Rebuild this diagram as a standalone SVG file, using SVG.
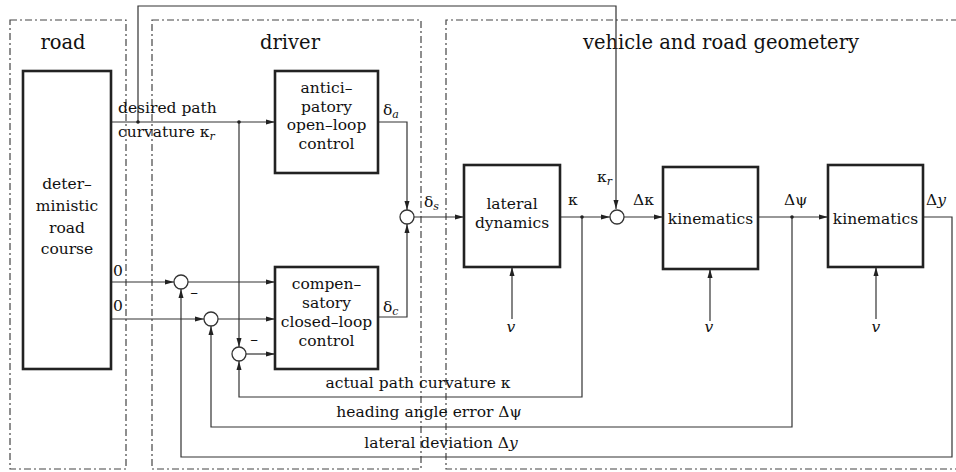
<svg xmlns="http://www.w3.org/2000/svg" width="956" height="472" viewBox="0 0 956 472">
<style>
text{font-family:'DejaVu Serif','Liberation Serif',serif;fill:#111;font-size:15.5px;text-anchor:middle}
.h{font-size:19.5px}
.l{text-anchor:start}
.it{font-style:italic}
.sub{font-size:11px;font-style:italic}
.frame{fill:none;stroke:#444;stroke-width:1.2;stroke-dasharray:7 3 2 3}
.blk{fill:#fff;stroke:#222;stroke-width:2.6}
.sum{fill:#fff;stroke:#333;stroke-width:1.3}
.c{fill:none;stroke:#333;stroke-width:1.2}
.arr{marker-end:url(#ah)}
</style>
<defs>
<marker id="ah" markerUnits="userSpaceOnUse" markerWidth="10" markerHeight="6" refX="9" refY="3" orient="auto">
<path d="M0,0.5 L9,3 L0,5.5 z" fill="#222"/>
</marker>
</defs>
<rect width="956" height="472" fill="#fff"/>

<g id="frames">
<rect class="frame" x="10" y="20" width="116" height="449"/>
<rect class="frame" x="152" y="20" width="269" height="449"/>
<path class="frame" d="M958,20 H446 V469 H958"/>
</g>

<g id="headings">
<text class="h" x="63" y="49">road</text>
<text class="h" x="290" y="49">driver</text>
<text class="h" x="721" y="49">vehicle and road geometery</text>
</g>

<g id="connectors">
<path class="c arr" d="M111,122 H275"/>
<path class="c arr" d="M138,122 V6 H616 V209"/>
<path class="c arr" d="M239,122 V347"/>
<path class="c arr" d="M378,122 H407 V210"/>
<path class="c arr" d="M378,317 H407 V224"/>
<path class="c arr" d="M414,217 H464"/>
<path class="c arr" d="M560,217 H610"/>
<path class="c arr" d="M624,217 H663"/>
<path class="c arr" d="M758,217 H828"/>
<path class="c arr" d="M923,217 H952 V457 H181 V289"/>
<path class="c arr" d="M792,217 V427 H211 V326"/>
<path class="c arr" d="M582,217 V397 H239 V361"/>
<path class="c arr" d="M111,282 H174"/>
<path class="c arr" d="M188,282 H275"/>
<path class="c arr" d="M111,319 H204"/>
<path class="c arr" d="M218,319 H275"/>
<path class="c arr" d="M246,354 H275"/>
<path class="c arr" d="M512,319 V267"/>
<path class="c arr" d="M710,321 V269"/>
<path class="c arr" d="M876,319 V267"/>
<circle cx="138" cy="122" r="1.8" fill="#222"/>
<circle cx="239" cy="122" r="1.8" fill="#222"/>
<circle cx="582" cy="217" r="1.8" fill="#222"/>
<circle cx="792" cy="217" r="1.8" fill="#222"/>
</g>

<g id="road-course">
<rect class="blk" x="23" y="71" width="88" height="298"/>
<text><tspan x="67" y="189">deter–</tspan><tspan x="67" y="211">ministic</tspan><tspan x="67" y="233">road</tspan><tspan x="67" y="254">course</tspan></text>
</g>

<g id="anticipatory">
<rect class="blk" x="275" y="71" width="103" height="102"/>
<text><tspan x="326.5" y="93">antici–</tspan><tspan x="326.5" y="111.5">patory</tspan><tspan x="326.5" y="130">open–loop</tspan><tspan x="326.5" y="148.5">control</tspan></text>
</g>

<g id="compensatory">
<rect class="blk" x="275" y="267" width="103" height="102"/>
<text><tspan x="326.5" y="289">compen–</tspan><tspan x="326.5" y="308">satory</tspan><tspan x="326.5" y="327">closed–loop</tspan><tspan x="326.5" y="346">control</tspan></text>
</g>

<g id="sum-a"><circle class="sum" cx="181" cy="282" r="7"/><text x="194" y="297" font-size="13">–</text></g>
<g id="sum-b"><circle class="sum" cx="211" cy="319" r="7"/></g>
<g id="sum-c"><circle class="sum" cx="239" cy="354" r="7"/><text x="254" y="344" font-size="13">–</text></g>
<g id="sum-s"><circle class="sum" cx="407" cy="217" r="7"/></g>
<g id="sum-k"><circle class="sum" cx="617" cy="217" r="7"/></g>

<g id="lateral-dynamics">
<rect class="blk" x="464" y="165" width="96" height="102"/>
<text><tspan x="512" y="209">lateral</tspan><tspan x="512" y="228">dynamics</tspan></text>
</g>

<g id="kinematics-1">
<rect class="blk" x="663" y="167" width="95" height="102"/>
<text x="710.5" y="224">kinematics</text>
</g>

<g id="kinematics-2">
<rect class="blk" x="828" y="165" width="95" height="102"/>
<text x="875.5" y="224">kinematics</text>
</g>

<g id="labels">
<text class="l" x="118" y="113">desired path</text>
<text class="l" x="118" y="137">curvature κ<tspan class="sub" dy="3">r</tspan></text>
<text class="l" x="113" y="276">0</text>
<text class="l" x="113" y="311">0</text>
<text class="l" x="383" y="115">δ<tspan class="sub" dy="3">a</tspan></text>
<text class="l" x="383" y="312">δ<tspan class="sub" dy="3">c</tspan></text>
<text class="l" x="424" y="207">δ<tspan class="sub" dy="3">s</tspan></text>
<text class="l" x="568" y="205">κ</text>
<text class="l" x="597" y="182">κ<tspan class="sub" dy="3">r</tspan></text>
<text class="l" x="633" y="205">Δκ</text>
<text class="l" x="784" y="205">Δψ</text>
<text class="l" x="926" y="205">Δ<tspan class="it">y</tspan></text>
<text class="it" x="511" y="332">v</text>
<text class="it" x="709" y="332">v</text>
<text class="it" x="876" y="332">v</text>
<text x="418" y="388">actual path curvature  κ</text>
<text x="429" y="417">heading angle error Δψ</text>
<text x="441" y="448">lateral deviation Δ<tspan class="it">y</tspan></text>
</g>
</svg>
